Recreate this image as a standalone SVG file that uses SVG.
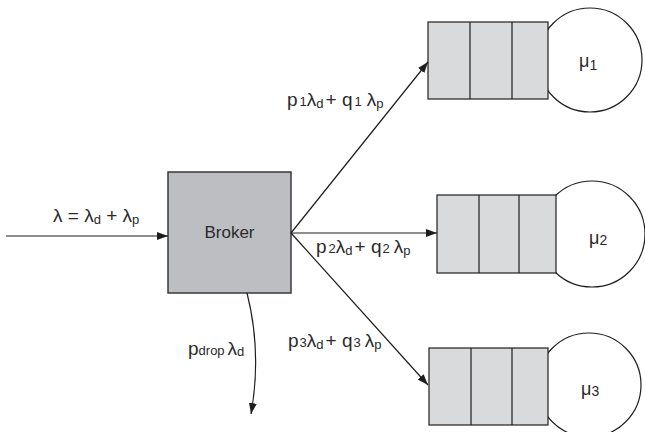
<svg xmlns="http://www.w3.org/2000/svg" width="645" height="432" viewBox="0 0 645 432">
  <style>
    text { font-family: "Liberation Sans", Arial, sans-serif; fill: #2a2a2a; }
    .lbl { font-size: 19px; }
    .sub { font-size: 13px; }
    .queue rect { fill: #d9dadc; stroke: #1e1e1e; stroke-width: 1.2; }
    .queue line { stroke: #1e1e1e; stroke-width: 1.2; }
    .server { fill: #ffffff; stroke: #1e1e1e; stroke-width: 1.2; }
    .edge { fill: none; stroke: #1e1e1e; stroke-width: 1.2; marker-end: url(#arrow); }
  </style>
  <defs>
    <marker id="arrow" viewBox="0 0 11 8" refX="11" refY="4" markerWidth="11" markerHeight="8" markerUnits="userSpaceOnUse" orient="auto">
      <path d="M0,0 L11,4 L0,8 Z" fill="#1e1e1e"/>
    </marker>
  </defs>
  <rect width="645" height="432" fill="#ffffff"/>

  <!-- servers (drawn first so the queues overlap them) -->
  <circle class="server" cx="590" cy="60" r="52"/>
  <circle class="server" cx="592" cy="234" r="53"/>
  <circle class="server" cx="589" cy="385" r="52"/>

  <!-- broker -->
  <g id="broker">
    <rect x="168" y="172" width="123" height="121" fill="#bdbec2" stroke="#3a3a3a" stroke-width="1.5"/>
    <text x="229.5" y="238" text-anchor="middle" style="font-size:17px">Broker</text>
  </g>

  <!-- queue 1 -->
  <g id="queue1" class="queue">
    <rect x="428" y="22" width="120" height="77"/>
    <line x1="470" y1="22" x2="470" y2="99"/>
    <line x1="512" y1="22" x2="512" y2="99"/>
    <text x="579" y="67" style="font-size:18px">μ<tspan dy="3" style="font-size:14px">1</tspan></text>
  </g>

  <!-- queue 2 -->
  <g id="queue2" class="queue">
    <rect x="437" y="195" width="119" height="78"/>
    <line x1="479" y1="195" x2="479" y2="273"/>
    <line x1="519" y1="195" x2="519" y2="273"/>
    <text x="589" y="244" style="font-size:18px">μ<tspan dy="1" style="font-size:14px">2</tspan></text>
  </g>

  <!-- queue 3 -->
  <g id="queue3" class="queue">
    <rect x="429" y="348" width="119" height="77"/>
    <line x1="471" y1="348" x2="471" y2="425"/>
    <line x1="512" y1="348" x2="512" y2="425"/>
    <text x="581" y="395" style="font-size:18px">μ<tspan dy="1" style="font-size:14px">3</tspan></text>
  </g>

  <!-- connectors -->
  <g id="connectors">
    <line class="edge" x1="6" y1="236" x2="168" y2="236"/>
    <line class="edge" x1="291" y1="233" x2="428" y2="62"/>
    <line class="edge" x1="291" y1="233" x2="437" y2="233"/>
    <line class="edge" x1="291" y1="233" x2="428" y2="385"/>
    <path class="edge" d="M247,293 Q262,352 251,414"/>
  </g>

  <!-- flow labels -->
  <g id="labels">
    <text class="lbl" x="53" y="222">λ = λ<tspan class="sub" dy="2">d</tspan><tspan dy="-2"> + λ</tspan><tspan class="sub" dy="2">p</tspan></text>
    <text class="lbl" x="287" y="106">p<tspan class="sub" dx="2">1</tspan>λ<tspan class="sub" dy="2">d</tspan><tspan dy="-2" dx="2">+ q</tspan><tspan class="sub" dx="2">1</tspan><tspan dx="5">λ</tspan><tspan class="sub" dy="2">p</tspan></text>
    <text class="lbl" x="316" y="253">p<tspan class="sub" dx="2">2</tspan>λ<tspan class="sub" dy="2">d</tspan><tspan dy="-2" dx="2">+ q</tspan><tspan class="sub" dx="1">2</tspan><tspan dx="4">λ</tspan><tspan class="sub" dy="2">p</tspan></text>
    <text class="lbl" x="288" y="347">p<tspan class="sub" dx="1">3</tspan>λ<tspan class="sub" dy="2">d</tspan><tspan dy="-2" dx="2">+ q</tspan><tspan class="sub" dx="1">3</tspan><tspan dx="4">λ</tspan><tspan class="sub" dy="2">p</tspan></text>
    <text class="lbl" x="188" y="355">p<tspan class="sub">drop</tspan><tspan dx="3">λ</tspan><tspan class="sub" dy="1">d</tspan></text>
  </g>
</svg>
